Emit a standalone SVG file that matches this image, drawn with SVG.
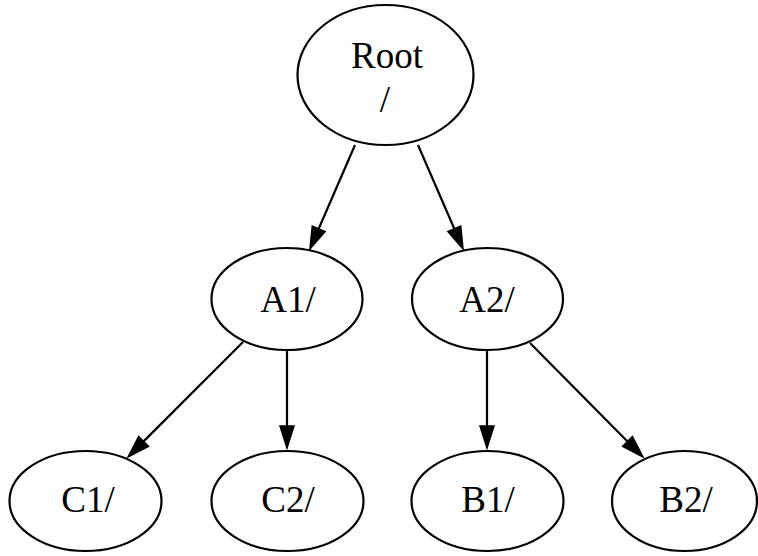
<svg xmlns="http://www.w3.org/2000/svg" width="758" height="556" viewBox="0 0 758 556">
<style>
.node ellipse{fill:#fff;stroke:#000;stroke-width:2.2}
.node text{font-family:"Liberation Serif","Times New Roman",serif;font-size:37px;fill:#000;text-anchor:middle}
.edge{stroke:#000;stroke-width:2.2;fill:none}
</style>
<defs>
<marker id="arr" markerUnits="userSpaceOnUse" viewBox="0 -8 24 16" markerWidth="24" markerHeight="16" refX="0" refY="0" orient="auto" overflow="visible">
<path d="M0,-7 L22,0 L0,7 Z" fill="#000" stroke="#000" stroke-width="1.5"/>
</marker>
</defs>
<rect width="758" height="556" fill="#fff"/>
<g id="connectors">
<line class="edge" x1="355" y1="145" x2="318.7" y2="228.8" marker-end="url(#arr)"/>
<line class="edge" x1="418" y1="145" x2="454.3" y2="228.8" marker-end="url(#arr)"/>
<line class="edge" x1="243" y1="342" x2="143.6" y2="441.4" marker-end="url(#arr)"/>
<line class="edge" x1="287" y1="350" x2="287" y2="426" marker-end="url(#arr)"/>
<line class="edge" x1="487" y1="350" x2="487" y2="426" marker-end="url(#arr)"/>
<line class="edge" x1="530" y1="343" x2="627.5" y2="441.4" marker-end="url(#arr)"/>
</g>
<g id="root" class="node">
<ellipse cx="385.5" cy="75" rx="88" ry="70"/>
<text x="387" y="68">Root</text>
<text x="385" y="112">/</text>
</g>
<g id="a1" class="node">
<ellipse cx="287" cy="299" rx="75.5" ry="51"/>
<text x="288" y="312">A1/</text>
</g>
<g id="a2" class="node">
<ellipse cx="487.5" cy="299" rx="75.5" ry="51"/>
<text x="487" y="312">A2/</text>
</g>
<g id="c1" class="node">
<ellipse cx="85.5" cy="501" rx="76" ry="50"/>
<text x="88" y="512">C1/</text>
</g>
<g id="c2" class="node">
<ellipse cx="287.5" cy="501" rx="76" ry="50"/>
<text x="288" y="512">C2/</text>
</g>
<g id="b1" class="node">
<ellipse cx="487.5" cy="501" rx="76" ry="50"/>
<text x="488" y="512">B1/</text>
</g>
<g id="b2" class="node">
<ellipse cx="684.5" cy="501" rx="72.5" ry="50"/>
<text x="686" y="512">B2/</text>
</g>
</svg>
